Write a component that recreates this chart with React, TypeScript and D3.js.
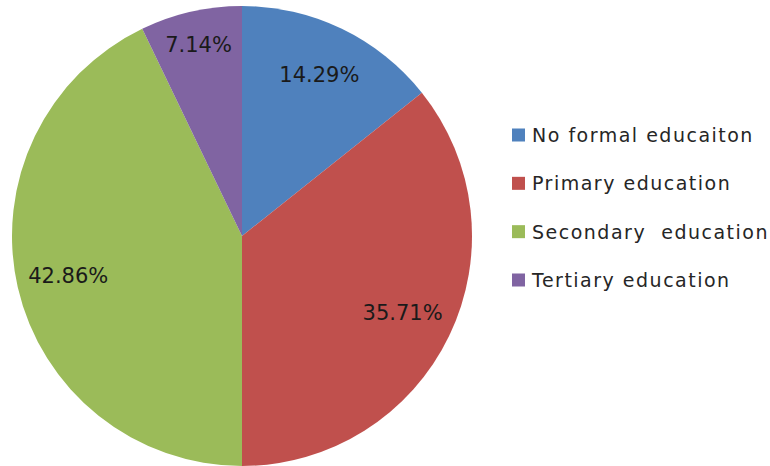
import React from "react";
import * as d3 from "d3";

const categories = ["No formal educaiton", "Primary education", "Secondary  education", "Tertiary education"];
const values = [14.29, 35.71, 42.86, 7.14];
const labels = ["14.29%", "35.71%", "42.86%", "7.14%"];
const colors = ["#4F81BD", "#C0504D", "#9BBB59", "#8064A2"];

export default function App() {
  const W = 770, H = 466;
  const cx = 242, cy = 236, r = 230;
  const pie = d3.pie<number>().sort(null).value((d) => d);
  const arcs = pie(values);
  const arc = d3.arc<d3.PieArcDatum<number>>().innerRadius(0).outerRadius(r);
  const total = d3.sum(values);
  const labelPos = (a: d3.PieArcDatum<number>) => {
    const frac = a.value / total;
    const lr = frac < 0.1 ? r * 0.85 : r * 0.775;
    const m = (a.startAngle + a.endAngle) / 2;
    return [Math.sin(m) * lr, -Math.cos(m) * lr];
  };
  const legendY = d3.scaleLinear().domain([0, 3]).range([135, 280]);
  return (
    <svg width={W} height={H} style={{ position: "absolute", left: 0, top: 0, background: "#fff" }}>
      <g transform={`translate(${cx},${cy})`}>
        {arcs.map((a, i) => (
          <path key={i} d={arc(a) || ""} fill={colors[i]} />
        ))}
        {arcs.map((a, i) => {
          const [x, y] = labelPos(a);
          return (
            <text key={i} x={x} y={y} textAnchor="middle" dominantBaseline="central"
              fontFamily="DejaVu Sans" fontSize={21} fill="#1a1a1a">
              {labels[i]}
            </text>
          );
        })}
      </g>
      <g>
        {categories.map((c, i) => (
          <g key={i} transform={`translate(512,${legendY(i)})`}>
            <rect x={0} y={-6.5} width={13} height={13} fill={colors[i]} />
            <text x={20} y={0} dominantBaseline="central" fontFamily="DejaVu Sans" fontSize={19}
              letterSpacing={1.5} fill="#262626" style={{ whiteSpace: "pre" }}>
              {c}
            </text>
          </g>
        ))}
      </g>
    </svg>
  );
}
